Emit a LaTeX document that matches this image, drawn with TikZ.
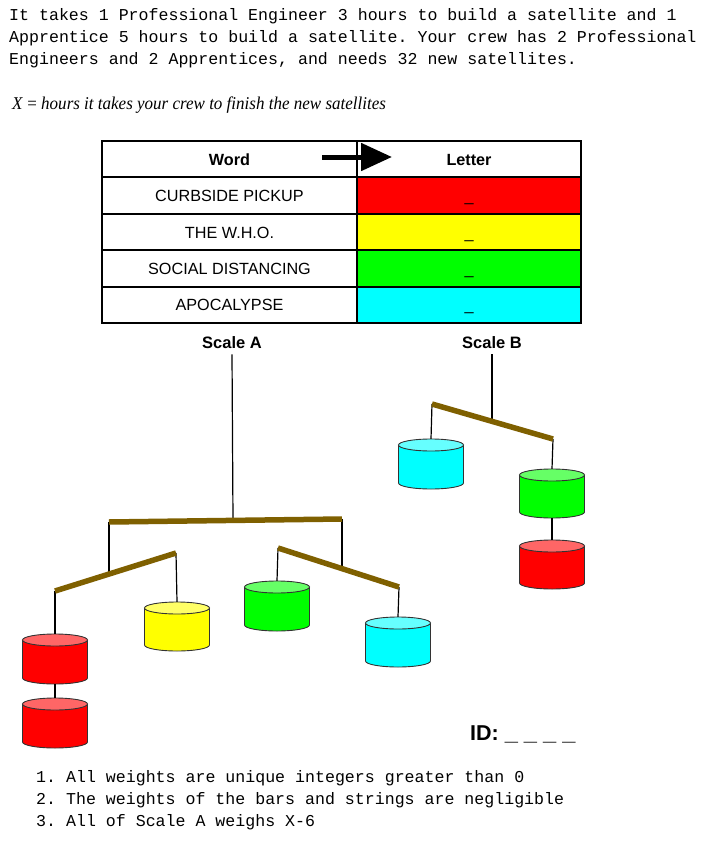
\documentclass[tikz,border=0pt]{standalone}
\usepackage{fontspec}
\setmainfont{Liberation Sans}
\newfontfamily\monof{Liberation Mono}
\newfontfamily\seriff{Liberation Serif}
\usetikzlibrary{arrows.meta}
\frenchspacing
\definecolor{barbrown}{HTML}{7F6000}
\definecolor{cylline}{HTML}{333333}
\definecolor{cred}{HTML}{FF0000}
\definecolor{cyellow}{HTML}{FFFF00}
\definecolor{cgreen}{HTML}{00FF00}
\definecolor{ccyan}{HTML}{00FFFF}
\definecolor{lred}{HTML}{FF6666}
\definecolor{lyellow}{HTML}{FFFF66}
\definecolor{lgreen}{HTML}{66FF66}
\definecolor{lcyan}{HTML}{66FFFF}
% name, cx, top centre y, bottom centre y, body colour, end colour
\newcommand\drum[6]{%
  \fill[#5] (#2-32.5,#3) -- (#2-32.5,#4) arc[start angle=180,end angle=360,x radius=32.5pt,y radius=6pt] -- (#2+32.5,#3) -- cycle;
  \draw[cylline,line width=0.9pt] (#2-32.5,#3) -- (#2-32.5,#4) arc[start angle=180,end angle=360,x radius=32.5pt,y radius=6pt] -- (#2+32.5,#3);
  \filldraw[fill=#6,draw=cylline,line width=0.9pt] (#2,#3) ellipse[x radius=32.5pt,y radius=6pt];
  \node[inner sep=0pt,minimum width=65pt,minimum height={#4-#3+12}] (#1) at (#2,{(#3+#4)/2}) {};
}
\newcommand\blank{\scalebox{1.1}[1]{\_}}
\begin{document}
\begin{tikzpicture}[x=1pt,y=-1pt,
  monotext/.style={anchor=base west,inner sep=0pt,font=\monof\fontsize{16.6}{20}\selectfont},
  cell/.style={draw=black,line width=2pt,minimum height=36.4pt,text height=12pt,text depth=0pt,inner sep=0pt,font=\fontsize{16.2}{19}\selectfont},
  wordcell/.style={cell,minimum width=255pt},
  lettercell/.style={cell,minimum width=224pt},
  scalelabel/.style={inner sep=0pt,font=\bfseries\fontsize{16.5}{19}\selectfont},
  string/.style={draw=black,line width=1.2pt},
  bar/.style={draw=barbrown,line width=5.5pt}]
\useasboundingbox[fill=white] (0,0) rectangle (713,843);

% problem text
\node[monotext] (t1) at (9,21) {It takes 1 Professional Engineer 3 hours to build a satellite and 1};
\node[monotext] (t2) at (9,43) {Apprentice 5 hours to build a satellite. Your crew has 2 Professional};
\node[monotext] (t3) at (9,65) {Engineers and 2 Apprentices, and needs 32 new satellites.};
\node[anchor=base west,inner sep=0pt,font=\seriff\fontsize{18}{21}\selectfont] (xdef) at (12,109)
  {\scalebox{0.945}[1]{\textit{X} = \textit{hours it takes your crew to finish the new satellites}}};

% table
\node[wordcell] (wh) at (229.5,159.2) {\bfseries Word};
\node[lettercell] (lh) at (469,159.2) {\bfseries Letter};
\node[wordcell] (w1) at (229.5,195.6) {CURBSIDE PICKUP};
\node[lettercell,fill=cred] (l1) at (469,195.6) {\_};
\node[wordcell] (w2) at (229.5,232) {THE W.H.O.};
\node[lettercell,fill=cyellow] (l2) at (469,232) {\_};
\node[wordcell] (w3) at (229.5,268.4) {SOCIAL DISTANCING};
\node[lettercell,fill=cgreen] (l3) at (469,268.4) {\_};
\node[wordcell] (w4) at (229.5,304.8) {APOCALYPSE};
\node[lettercell,fill=ccyan] (l4) at (469,304.8) {\_};

% arrow
\coordinate (arrS) at (322,157);
\coordinate (arrE) at (392,157);
\draw[line width=5pt,-{Triangle[length=31pt,width=27pt]}] (arrS) -- (arrE);

% scale labels
\node[scalelabel] (sA) at (232,343) {Scale A};
\node[scalelabel] (sB) at (492,343) {Scale B};

% ---- Scale A ----
\coordinate (Atl) at (109,522);
\coordinate (Atr) at (342,519);
\coordinate (Atc) at (233,520.5);
\coordinate (Lbl) at (55,591);
\coordinate (Lbr) at (176,553);
\coordinate (Lbc) at (109,574);
\coordinate (Rbl) at (278,548);
\coordinate (Rbr) at (399,587);
\coordinate (Rbc) at (342,568.6);

\drum{ra1}{55}{640}{678}{cred}{lred}
\drum{ra2}{55}{704}{742}{cred}{lred}
\drum{ya}{177}{608}{645}{cyellow}{lyellow}
\drum{ga}{277}{587}{625}{cgreen}{lgreen}
\drum{ca}{398}{623}{661}{ccyan}{lcyan}

\draw[string] ([yshift=-5pt]sA.south) -- (Atc);
\draw[string] (Atl) -- (Lbc);
\draw[string] (Atr) -- (Rbc);
\draw[string] (Lbl) -- (ra1.north);
\draw[string] (ra1.south) -- (ra2.north);
\draw[string] (Lbr) -- (ya.north);
\draw[string] (Rbl) -- (ga.north);
\draw[string] (Rbr) -- (ca.north);

\draw[bar] (Atl) -- (Atr);
\draw[bar] (Lbl) -- (Lbr);
\draw[bar] (Rbl) -- (Rbr);

% ---- Scale B ----
\coordinate (Bl) at (432,404);
\coordinate (Br) at (553,439);
\coordinate (Bc) at (492,421.4);

\drum{cb}{431}{445}{483}{ccyan}{lcyan}
\drum{gb}{552}{475}{512}{cgreen}{lgreen}
\drum{rb}{552}{546}{583}{cred}{lred}

\draw[string] ([yshift=-5pt]sB.south) -- (Bc);
\draw[string] (Bl) -- (cb.north);
\draw[string] (Br) -- (gb.north);
\draw[string] (gb.south) -- (rb.north);
\draw[bar] (Bl) -- (Br);

% ID
\node[anchor=base west,inner sep=0pt,font=\bfseries\fontsize{21.5}{24}\selectfont] (id) at (470,740)
  {ID: \blank\hspace{6pt}\blank\hspace{6pt}\blank\hspace{6pt}\blank};

% rules
\node[monotext] (r1) at (36,782) {1. All weights are unique integers greater than 0};
\node[monotext] (r2) at (36,804) {2. The weights of the bars and strings are negligible};
\node[monotext] (r3) at (36,826) {3. All of Scale A weighs X-6};
\end{tikzpicture}
\end{document}
